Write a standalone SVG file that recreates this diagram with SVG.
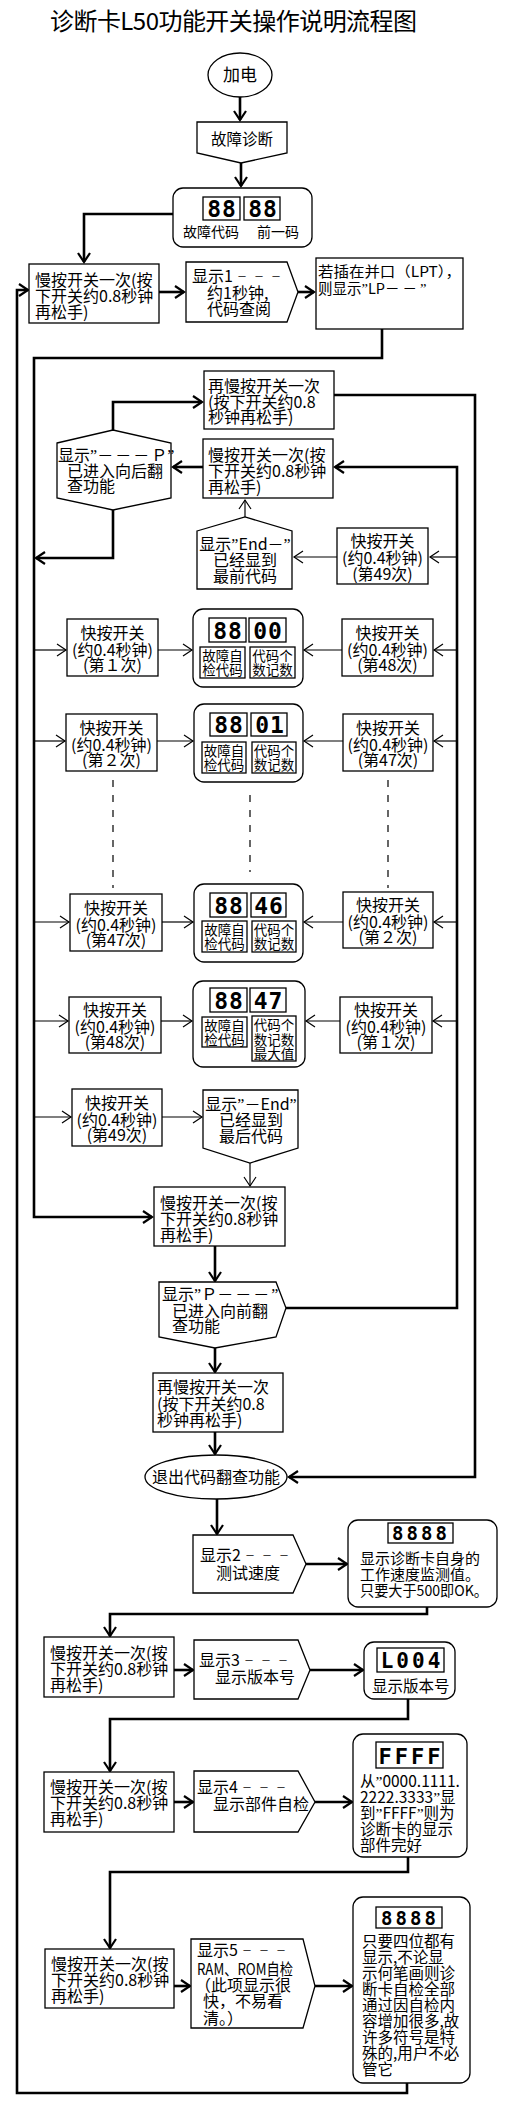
<svg xmlns="http://www.w3.org/2000/svg" width="520" height="2120" viewBox="0 0 520 2120">
<defs>
<style>
.t{font-family:"Noto Sans CJK SC","Noto Sans",sans-serif;font-size:16px;fill:#000}
.q{font-family:"Liberation Serif",serif}
.c{text-anchor:middle}
.s{font-size:13.5px}
.m{font-size:15.5px}
.ds{font-size:10px;letter-spacing:7px}
.b{fill:#fff;stroke:#000;stroke-width:1.3}
.dg{font-family:"DejaVu Sans Mono",monospace;font-weight:bold;text-anchor:middle;fill:#000;font-size:23px;letter-spacing:1px}
.k{fill:none;stroke:#000;stroke-width:2.6}
.n{fill:none;stroke:#000;stroke-width:1.2}
.d{fill:none;stroke:#000;stroke-width:1.2;stroke-dasharray:7 8}
</style>
<marker id="ak" markerUnits="userSpaceOnUse" markerWidth="14" markerHeight="14" refX="9" refY="6" orient="auto" overflow="visible"><path d="M0,0 L9,6 L0,12" fill="none" stroke="#000" stroke-width="2.2"/></marker>
<marker id="an" markerUnits="userSpaceOnUse" markerWidth="14" markerHeight="14" refX="9" refY="6" orient="auto" overflow="visible"><path d="M0,0 L9,6 L0,12" fill="none" stroke="#000" stroke-width="1.2"/></marker>
</defs>
<rect x="0" y="0" width="520" height="2120" fill="#fff"/>
<text class="t" x="50" y="30" style="font-size:24px" textLength="367" lengthAdjust="spacing">诊断卡L50功能开关操作说明流程图</text>

<g id="connectors">
<path class="k" d="M240,97 V120" marker-end="url(#ak)"/>
<path class="k" d="M241,163 V186" marker-end="url(#ak)"/>
<path class="k" d="M173,214 H84 V262" marker-end="url(#ak)"/>
<path class="k" d="M159,292 H184" marker-end="url(#ak)"/>
<path class="k" d="M298,292 H314" marker-end="url(#ak)"/>
<path class="k" d="M382,329 V358 H34 V1217 H152" marker-end="url(#ak)"/>
<path class="k" d="M407,2083 V2093 H17 V290 H28" marker-end="url(#ak)"/>
<path class="k" d="M334,395 H475 V1477 H289" marker-end="url(#ak)"/>
<path class="k" d="M113,430 V402 H202" marker-end="url(#ak)"/>
<path class="k" d="M203,467 H173" marker-end="url(#ak)"/>
<path class="k" d="M113,510 V558 H36" marker-end="url(#ak)"/>
<path class="k" d="M286,1308 H457 V467 H335" marker-end="url(#ak)"/>
<path class="n" d="M245,517 V500" marker-end="url(#an)"/>
<path class="n" d="M457,557 H430" marker-end="url(#an)"/>
<path class="n" d="M337,557 H294" marker-end="url(#an)"/>
<path class="n" d="M34,650 H66" marker-end="url(#an)"/>
<path class="n" d="M158,650 H192" marker-end="url(#an)"/>
<path class="n" d="M342,650 H304" marker-end="url(#an)"/>
<path class="n" d="M457,650 H434" marker-end="url(#an)"/>
<path class="n" d="M34,741 H65" marker-end="url(#an)"/>
<path class="n" d="M157,741 H193" marker-end="url(#an)"/>
<path class="n" d="M343,741 H304" marker-end="url(#an)"/>
<path class="n" d="M457,741 H434" marker-end="url(#an)"/>
<path class="d" d="M113,780 V888"/>
<path class="d" d="M250,795 V872"/>
<path class="d" d="M388,780 V888"/>
<path class="n" d="M34,922 H69" marker-end="url(#an)"/>
<path class="n" d="M162,922 H193" marker-end="url(#an)"/>
<path class="n" d="M343,922 H304" marker-end="url(#an)"/>
<path class="n" d="M457,922 H434" marker-end="url(#an)"/>
<path class="n" d="M34,1021 H68" marker-end="url(#an)"/>
<path class="n" d="M161,1021 H192" marker-end="url(#an)"/>
<path class="n" d="M340,1021 H306" marker-end="url(#an)"/>
<path class="n" d="M457,1021 H433" marker-end="url(#an)"/>
<path class="n" d="M34,1117 H71" marker-end="url(#an)"/>
<path class="n" d="M162,1117 H202" marker-end="url(#an)"/>
<path class="n" d="M250,1163 V1186" marker-end="url(#an)"/>
<path class="k" d="M215,1246 V1281" marker-end="url(#ak)"/>
<path class="k" d="M215,1348 V1372" marker-end="url(#ak)"/>
<path class="k" d="M215,1432 V1454" marker-end="url(#ak)"/>
<path class="k" d="M217,1499 V1534" marker-end="url(#ak)"/>
<path class="k" d="M306,1564 H347" marker-end="url(#ak)"/>
<path class="k" d="M427,1607 V1614 H110 V1636" marker-end="url(#ak)"/>
<path class="k" d="M174,1670 H193" marker-end="url(#ak)"/>
<path class="k" d="M310,1670 H363" marker-end="url(#ak)"/>
<path class="k" d="M408,1699 V1719 H110 V1771" marker-end="url(#ak)"/>
<path class="k" d="M174,1802 H193" marker-end="url(#ak)"/>
<path class="k" d="M315,1802 H352" marker-end="url(#ak)"/>
<path class="k" d="M408,1857 V1872 H110 V1948" marker-end="url(#ak)"/>
<path class="k" d="M174,1986 H190" marker-end="url(#ak)"/>
<path class="k" d="M315,1986 H352" marker-end="url(#ak)"/>
</g>

<g id="n-power"><ellipse class="b" cx="240" cy="75" rx="32" ry="22"/><text class="t c" x="240" y="81" style="font-size:17px">加电</text></g>
<g id="n-diag"><polygon class="b" points="197,122 287,122 287,153 241,163 197,153"/><text class="t c m" x="242" y="145">故障诊断</text></g>
<g id="n-disp0"><rect class="b" x="173" y="188" width="139" height="59" rx="10"/><rect class="b" x="203" y="197" width="37" height="23"/><rect class="b" x="244" y="197" width="36" height="23"/><text class="dg" x="222" y="217">88</text><text class="dg" x="263" y="217">88</text><text class="t" x="183" y="237" style="font-size:14px">故障代码</text><text class="t" x="257" y="237" style="font-size:14px">前一码</text></g>
<g id="n-slow1"><rect class="b" x="29" y="264" width="130" height="59"/><text class="t" x="35" y="286">慢按开关一次(按</text><text class="t" x="35" y="302">下开关约0.8秒钟</text><text class="t" x="35" y="318">再松手)</text></g>
<g id="n-show1"><polygon class="b" points="186,262 287,262 298,292 287,322 186,322"/><text class="t" x="192" y="282">显示1<tspan class="ds" dx="4" dy="-2">－－－</tspan></text><text class="t" x="207" y="299">约1秒钟,</text><text class="t" x="207" y="315">代码查阅</text></g>
<g id="n-lpt"><rect class="b" x="316" y="258" width="147" height="71"/><text class="t" x="318" y="277" style="font-size:14.5px" textLength="143" lengthAdjust="spacingAndGlyphs">若插在并口（LPT），</text><text class="t" x="318" y="294" style="font-size:14.5px">则显示<tspan class="q">”</tspan>LP<tspan letter-spacing="3">－－</tspan><tspan class="q">”</tspan></text></g>
<g id="n-again1"><rect class="b" x="204" y="371" width="130" height="58"/><text class="t" x="208" y="392">再慢按开关一次</text><text class="t" x="208" y="408">(按下开关约0.8</text><text class="t" x="208" y="423">秒钟再松手)</text></g>
<g id="n-backmode"><polygon class="b" points="57,443 113,430 171,443 171,498 113,510 57,498"/><text class="t" x="58" y="461">显示<tspan class="q">”</tspan><tspan letter-spacing="2">－－－</tspan>Ｐ<tspan class="q">”</tspan></text><text class="t" x="67" y="477">已进入向后翻</text><text class="t" x="67" y="492">查功能</text></g>
<g id="n-slow2"><rect class="b" x="203" y="439" width="130" height="59"/><text class="t" x="208" y="461">慢按开关一次(按</text><text class="t" x="208" y="477">下开关约0.8秒钟</text><text class="t" x="208" y="493">再松手)</text></g>
<g id="n-endfront"><polygon class="b" points="197,531 245,517 292,531 292,589 197,589"/><text class="t c" x="245" y="550">显示<tspan class="q">”</tspan>End－<tspan class="q">”</tspan></text><text class="t c" x="245" y="566">已经显到</text><text class="t c" x="245" y="582">最前代码</text></g>
<g id="n-f49a"><rect class="b" x="337" y="528" width="91" height="56"/><text class="t c" x="382.5" y="547">快按开关</text><text class="t c" x="382.5" y="564">(约0.4秒钟)</text><text class="t c" x="382.5" y="580">(第49次)</text></g>

<g id="n-f1a"><rect class="b" x="67" y="619" width="91" height="57"/><text class="t c" x="112.5" y="639">快按开关</text><text class="t c" x="112.5" y="656">(约0.4秒钟)</text><text class="t c" x="112.5" y="671">(第１次)</text></g>
<g id="n-d00"><rect class="b" x="193" y="609" width="110" height="78" rx="10"/><rect class="b" x="209" y="618" width="37" height="24"/><rect class="b" x="249" y="618" width="37" height="24"/><text class="dg" x="228" y="639">88</text><text class="dg" x="268" y="639">00</text><rect class="b" x="200" y="647" width="45" height="31"/><rect class="b" x="250" y="647" width="45" height="31"/><text class="t s c" x="222.5" y="661">故障自</text><text class="t s c" x="222.5" y="675">检代码</text><text class="t s c" x="272.5" y="661">代码个</text><text class="t s c" x="272.5" y="675">数记数</text></g>
<g id="n-f48a"><rect class="b" x="342" y="619" width="91" height="57"/><text class="t c" x="387.5" y="639">快按开关</text><text class="t c" x="387.5" y="656">(约0.4秒钟)</text><text class="t c" x="387.5" y="671">(第48次)</text></g>

<g id="n-f2a"><rect class="b" x="66" y="714" width="91" height="57"/><text class="t c" x="111.5" y="734">快按开关</text><text class="t c" x="111.5" y="751">(约0.4秒钟)</text><text class="t c" x="111.5" y="766">(第２次)</text></g>
<g id="n-d01"><rect class="b" x="194" y="704" width="109" height="78" rx="10"/><rect class="b" x="210" y="713" width="37" height="23"/><rect class="b" x="251" y="713" width="36" height="23"/><text class="dg" x="229" y="733">88</text><text class="dg" x="270" y="733">01</text><rect class="b" x="202" y="742" width="44" height="31"/><rect class="b" x="252" y="742" width="44" height="31"/><text class="t s c" x="224" y="756">故障自</text><text class="t s c" x="224" y="770">检代码</text><text class="t s c" x="274" y="756">代码个</text><text class="t s c" x="274" y="770">数记数</text></g>
<g id="n-f47a"><rect class="b" x="343" y="714" width="90" height="57"/><text class="t c" x="388" y="734">快按开关</text><text class="t c" x="388" y="751">(约0.4秒钟)</text><text class="t c" x="388" y="766">(第47次)</text></g>

<g id="n-f47b"><rect class="b" x="70" y="894" width="92" height="57"/><text class="t c" x="116" y="914">快按开关</text><text class="t c" x="116" y="931">(约0.4秒钟)</text><text class="t c" x="116" y="946">(第47次)</text></g>
<g id="n-d46"><rect class="b" x="194" y="884" width="109" height="78" rx="10"/><rect class="b" x="210" y="893" width="37" height="24"/><rect class="b" x="251" y="893" width="35" height="24"/><text class="dg" x="229" y="914">88</text><text class="dg" x="269" y="914">46</text><rect class="b" x="202" y="921" width="45" height="31"/><rect class="b" x="252" y="921" width="44" height="31"/><text class="t s c" x="224.5" y="935">故障自</text><text class="t s c" x="224.5" y="949">检代码</text><text class="t s c" x="274" y="935">代码个</text><text class="t s c" x="274" y="949">数记数</text></g>
<g id="n-f2b"><rect class="b" x="343" y="892" width="90" height="56"/><text class="t c" x="388" y="911">快按开关</text><text class="t c" x="388" y="928">(约0.4秒钟)</text><text class="t c" x="388" y="943">(第２次)</text></g>

<g id="n-f48b"><rect class="b" x="69" y="997" width="92" height="56"/><text class="t c" x="115" y="1016">快按开关</text><text class="t c" x="115" y="1033">(约0.4秒钟)</text><text class="t c" x="115" y="1048">(第48次)</text></g>
<g id="n-d47"><rect class="b" x="193" y="981" width="112" height="86" rx="10"/><rect class="b" x="210" y="988" width="37" height="24"/><rect class="b" x="250" y="988" width="36" height="24"/><text class="dg" x="229" y="1009">88</text><text class="dg" x="268.5" y="1009">47</text><rect class="b" x="202" y="1017" width="45" height="30"/><rect class="b" x="252" y="1016" width="44" height="45"/><text class="t s c" x="224.5" y="1031">故障自</text><text class="t s c" x="224.5" y="1045">检代码</text><text class="t s c" x="274" y="1030">代码个</text><text class="t s c" x="274" y="1045">数记数</text><text class="t s c" x="274" y="1059">最大值</text></g>
<g id="n-f1b"><rect class="b" x="340" y="997" width="92" height="56"/><text class="t c" x="386" y="1016">快按开关</text><text class="t c" x="386" y="1033">(约0.4秒钟)</text><text class="t c" x="386" y="1048">(第１次)</text></g>

<g id="n-f49b"><rect class="b" x="72" y="1089" width="90" height="57"/><text class="t c" x="117" y="1109">快按开关</text><text class="t c" x="117" y="1126">(约0.4秒钟)</text><text class="t c" x="117" y="1141">(第49次)</text></g>
<g id="n-endback"><polygon class="b" points="203,1090 298,1090 298,1148 250,1163 203,1148"/><text class="t c" x="251" y="1110">显示<tspan class="q">”</tspan>－End<tspan class="q">”</tspan></text><text class="t c" x="251" y="1126">已经显到</text><text class="t c" x="251" y="1142">最后代码</text></g>
<g id="n-slow3"><rect class="b" x="154" y="1187" width="131" height="59"/><text class="t" x="160" y="1209">慢按开关一次(按</text><text class="t" x="160" y="1225">下开关约0.8秒钟</text><text class="t" x="160" y="1241">再松手)</text></g>
<g id="n-frontmode"><polygon class="b" points="159,1282 276,1282 286,1308 276,1337 215,1348 159,1337"/><text class="t" x="162" y="1300">显示<tspan class="q">”</tspan>Ｐ<tspan letter-spacing="2">－－－</tspan><tspan class="q">”</tspan></text><text class="t" x="172" y="1317">已进入向前翻</text><text class="t" x="172" y="1332">查功能</text></g>
<g id="n-again2"><rect class="b" x="153" y="1373" width="130" height="59"/><text class="t" x="157" y="1393">再慢按开关一次</text><text class="t" x="157" y="1410">(按下开关约0.8</text><text class="t" x="157" y="1426">秒钟再松手)</text></g>
<g id="n-exit"><ellipse class="b" cx="216" cy="1477" rx="71" ry="22"/><text class="t c" x="216" y="1483">退出代码翻查功能</text></g>
<g id="n-show2"><polygon class="b" points="193,1535 293,1535 306,1564 293,1593 193,1593"/><text class="t" x="200" y="1561">显示2<tspan class="ds" dx="4" dy="-2">－－－</tspan></text><text class="t" x="216" y="1579">测试速度</text></g>
<g id="n-speed"><rect class="b" x="348" y="1520" width="149" height="87" rx="10"/><rect class="b" x="388" y="1523" width="65" height="20"/><text class="dg" x="421" y="1540" style="font-size:19px;letter-spacing:3px">8888</text><text class="t" x="360" y="1564" style="font-size:15px">显示诊断卡自身的</text><text class="t" x="360" y="1580" style="font-size:15px">工作速度监测值。</text><text class="t" x="360" y="1596" style="font-size:15px" textLength="128" lengthAdjust="spacingAndGlyphs">只要大于500即OK。</text></g>
<g id="n-slow4"><rect class="b" x="44" y="1637" width="130" height="60"/><text class="t" x="50" y="1659">慢按开关一次(按</text><text class="t" x="50" y="1675">下开关约0.8秒钟</text><text class="t" x="50" y="1691">再松手)</text></g>
<g id="n-show3"><polygon class="b" points="194,1640 298,1640 310,1670 298,1699 194,1699"/><text class="t" x="199" y="1666">显示3<tspan class="ds" dx="4" dy="-2">－－－</tspan></text><text class="t" x="215" y="1683">显示版本号</text></g>
<g id="n-ver"><rect class="b" x="364" y="1642" width="91" height="57" rx="10"/><rect class="b" x="377" y="1648" width="67" height="24"/><text class="dg" x="412" y="1668" style="font-size:21px;letter-spacing:3px">L004</text><text class="t m" x="372" y="1692">显示版本号</text></g>
<g id="n-slow5"><rect class="b" x="44" y="1772" width="130" height="60"/><text class="t" x="50" y="1793">慢按开关一次(按</text><text class="t" x="50" y="1809">下开关约0.8秒钟</text><text class="t" x="50" y="1825">再松手)</text></g>
<g id="n-show4"><polygon class="b" points="194,1771 298,1771 315,1802 298,1832 194,1832"/><text class="t" x="197" y="1793">显示4<tspan class="ds" dx="4" dy="-2">－－－</tspan></text><text class="t" x="213" y="1810">显示部件自检</text></g>
<g id="n-ffff"><rect class="b" x="353" y="1734" width="114" height="123" rx="10"/><rect class="b" x="376" y="1742" width="67" height="26"/><text class="dg" x="411" y="1764" style="font-size:22px;letter-spacing:3px">FFFF</text><text class="t m" x="360" y="1787">从<tspan class="q">”</tspan>0000.1111.</text><text class="t m" x="360" y="1803">2222.3333<tspan class="q">”</tspan>显</text><text class="t m" x="360" y="1819">到<tspan class="q">”</tspan>FFFF<tspan class="q">”</tspan>则为</text><text class="t m" x="360" y="1835">诊断卡的显示</text><text class="t m" x="360" y="1851">部件完好</text></g>
<g id="n-slow6"><rect class="b" x="45" y="1949" width="129" height="59"/><text class="t" x="51" y="1970">慢按开关一次(按</text><text class="t" x="51" y="1986">下开关约0.8秒钟</text><text class="t" x="51" y="2002">再松手)</text></g>
<g id="n-show5"><polygon class="b" points="191,1939 303,1939 315,1986 303,2028 191,2028"/><text class="t" x="197" y="1956">显示5<tspan class="ds" dx="4" dy="-2">－－－</tspan></text><text class="t" x="197" y="1975" textLength="96" lengthAdjust="spacingAndGlyphs">RAM、ROM自检</text><text class="t" x="195" y="1991">（此项显示很</text><text class="t" x="203" y="2007">快，不易看</text><text class="t" x="203" y="2024">清。）</text></g>
<g id="n-last"><rect class="b" x="353" y="1897" width="117" height="186" rx="10"/><rect class="b" x="376" y="1907" width="66" height="21"/><text class="dg" x="410" y="1925" style="font-size:19px;letter-spacing:3px">8888</text><text class="t m" x="362" y="1947">只要四位都有</text><text class="t m" x="362" y="1963">显示,不论显</text><text class="t m" x="362" y="1979">示何笔画则诊</text><text class="t m" x="362" y="1995">断卡自检全部</text><text class="t m" x="362" y="2011">通过因自检内</text><text class="t m" x="362" y="2027">容增加很多,故</text><text class="t m" x="362" y="2043">许多符号是特</text><text class="t m" x="362" y="2059">殊的,用户不必</text><text class="t m" x="362" y="2075">管它</text></g>
</svg>
